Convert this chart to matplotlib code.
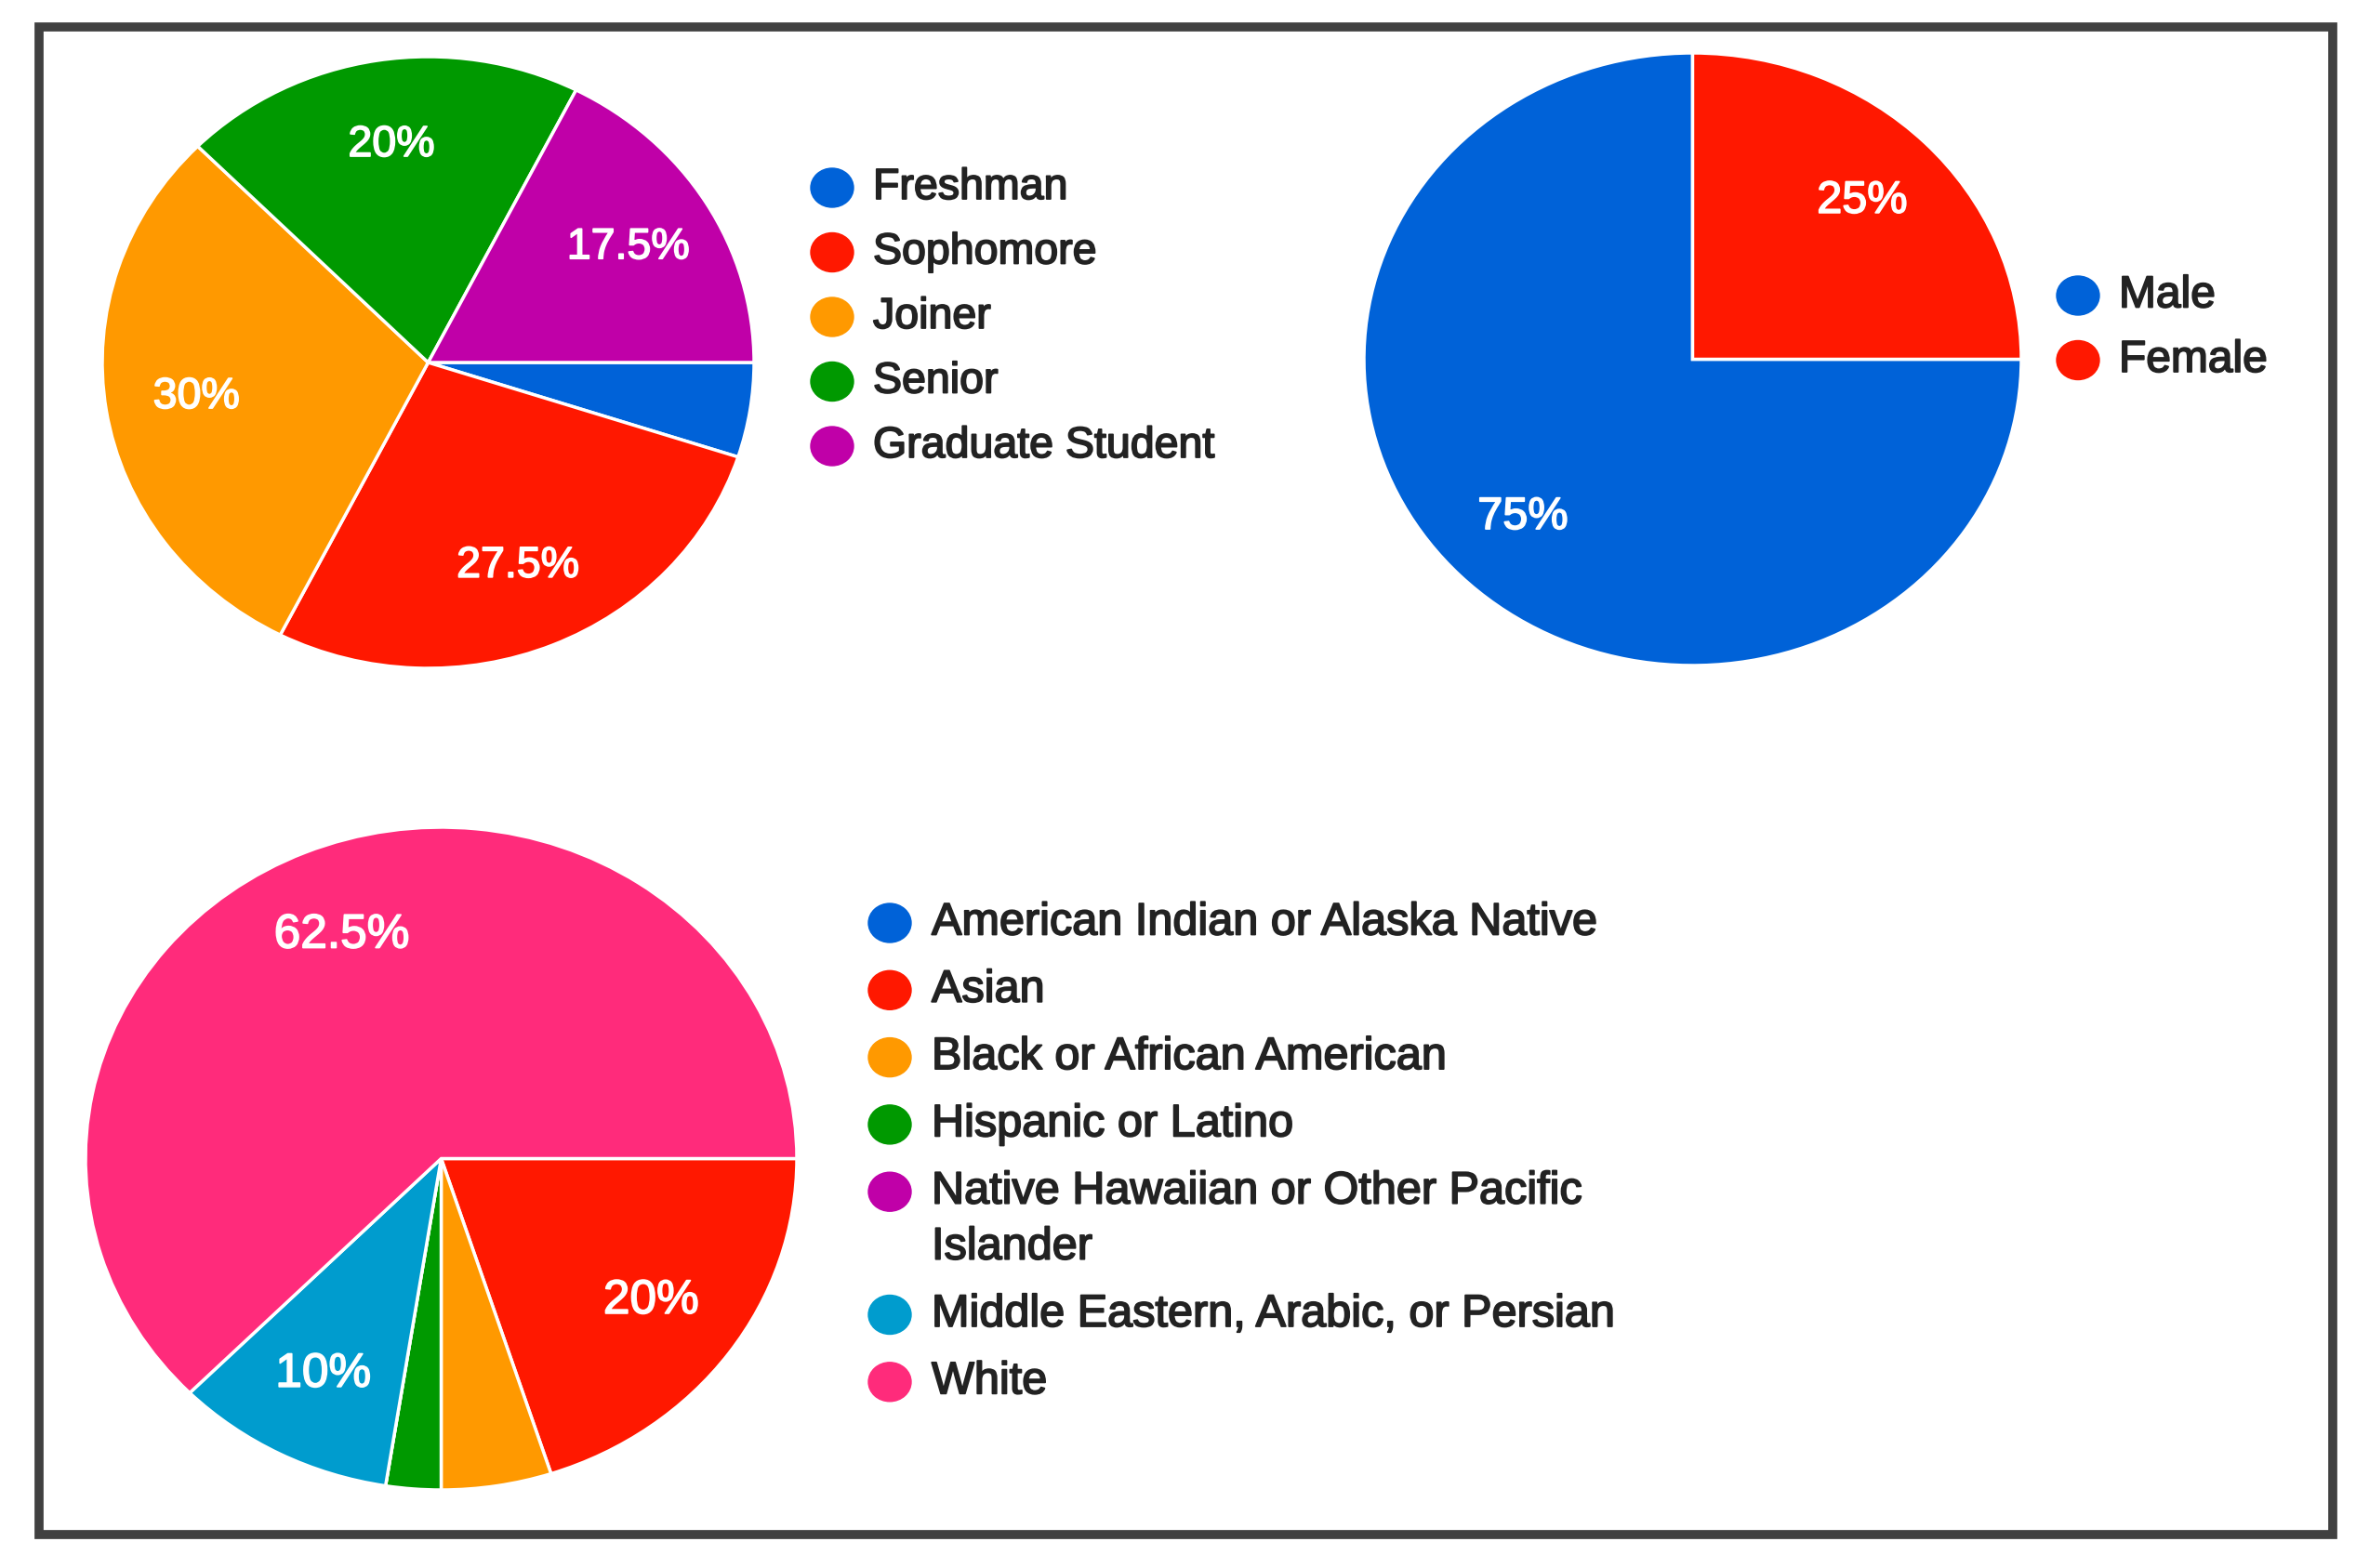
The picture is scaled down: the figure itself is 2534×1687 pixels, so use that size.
import matplotlib
matplotlib.use("Agg")
import matplotlib.pyplot as plt
import matplotlib.patheffects as pe
from matplotlib.patches import Ellipse, Rectangle

# data
year_labels = ['Freshman', 'Sophomore', 'Joiner', 'Senior', 'Graduate Student']
year_pct = [5, 27.5, 30, 20, 17.5]
year_colors = ['#0062D8', '#FF1800', '#FF9900', '#009900', '#C000A8']

gender_labels = ['Male', 'Female']
gender_pct = [75, 25]
gender_colors = ['#0062D8', '#FF1800']

race_labels = ['American Indian or Alaska Native', 'Asian', 'Black or African American',
               'Hispanic or Latino', 'Native Hawaiian or Other Pacific\nIslander',
               'Middle Eastern, Arabic, or Persian', 'White']
race_pct = [0, 20, 5, 2.5, 0, 10, 62.5]
race_colors = ['#0062D8', '#FF1800', '#FF9900', '#009900', '#C000A8', '#009CCE', '#FF2B7B']

W, H = 2534, 1687
plt.rcParams['font.family'] = ['Liberation Sans', 'DejaVu Sans']
fig = plt.figure(figsize=(W / 100, H / 100), dpi=100)
fig.patch.set_facecolor('white')


def px_axes(x0, y0, x1, y1):
    return fig.add_axes([x0 / W, 1 - y1 / H, (x1 - x0) / W, (y1 - y0) / H])


def pct_fmt(p):
    # small slices get no label, like the original
    return '' if p < 6 else ('%g%%' % round(p, 1))


def draw_pie(box, values, colors, pdist, fs):
    ax = px_axes(*box)
    wedges, texts, autotexts = ax.pie(values, colors=colors, startangle=0, counterclock=False,
                                      autopct=pct_fmt, pctdistance=pdist, radius=1,
                                      wedgeprops=dict(edgecolor='white', linewidth=2.5))
    for t in autotexts:
        t.set_color('white')
        t.set_fontsize(fs)
        t.set_path_effects([pe.withStroke(linewidth=1.2, foreground='white')])
    ax.set_aspect('auto')
    ax.set_xlim(-1, 1)
    ax.set_ylim(-1, 1)
    return ax


draw_pie((110, 61, 811, 719), year_pct, year_colors, 0.72, 33.5)
draw_pie((1467, 57, 2174, 716), gender_pct, gender_colors, 0.73, 35)
draw_pie((92, 890, 857, 1603), race_pct, race_colors, 0.73, 37)

# overlay in pixel coords for frame + legends
ov = fig.add_axes([0, 0, 1, 1], zorder=-1)
ov.set_xlim(0, W)
ov.set_ylim(H, 0)
ov.axis('off')
ov.add_patch(Rectangle((42, 29), 2509 - 42, 1651 - 29, fill=False, ec='#404040', lw=7))


def draw_legend(labels, colors, cx, tx, y0, step, line_step, fs):
    y = y0
    for lab, c in zip(labels, colors):
        ov.add_patch(Ellipse((cx, y), 46, 42, color=c))
        lines = lab.split('\n')
        for k, ln in enumerate(lines):
            ov.text(tx, y + k * line_step, ln, fontsize=fs, color='#222222',
                    ha='left', va='center',
                    path_effects=[pe.withStroke(linewidth=1.3, foreground='#222222')])
        y += step + (len(lines) - 1) * line_step


draw_legend(year_labels, year_colors, 895, 939, 202, 69.5, 60, 33.5)
draw_legend(gender_labels, gender_colors, 2235, 2279, 318, 69.5, 60, 34.5)
draw_legend(race_labels, race_colors, 957, 1002, 993, 72.3, 60, 35)

fig.savefig('out.png', dpi=100, facecolor='white')
